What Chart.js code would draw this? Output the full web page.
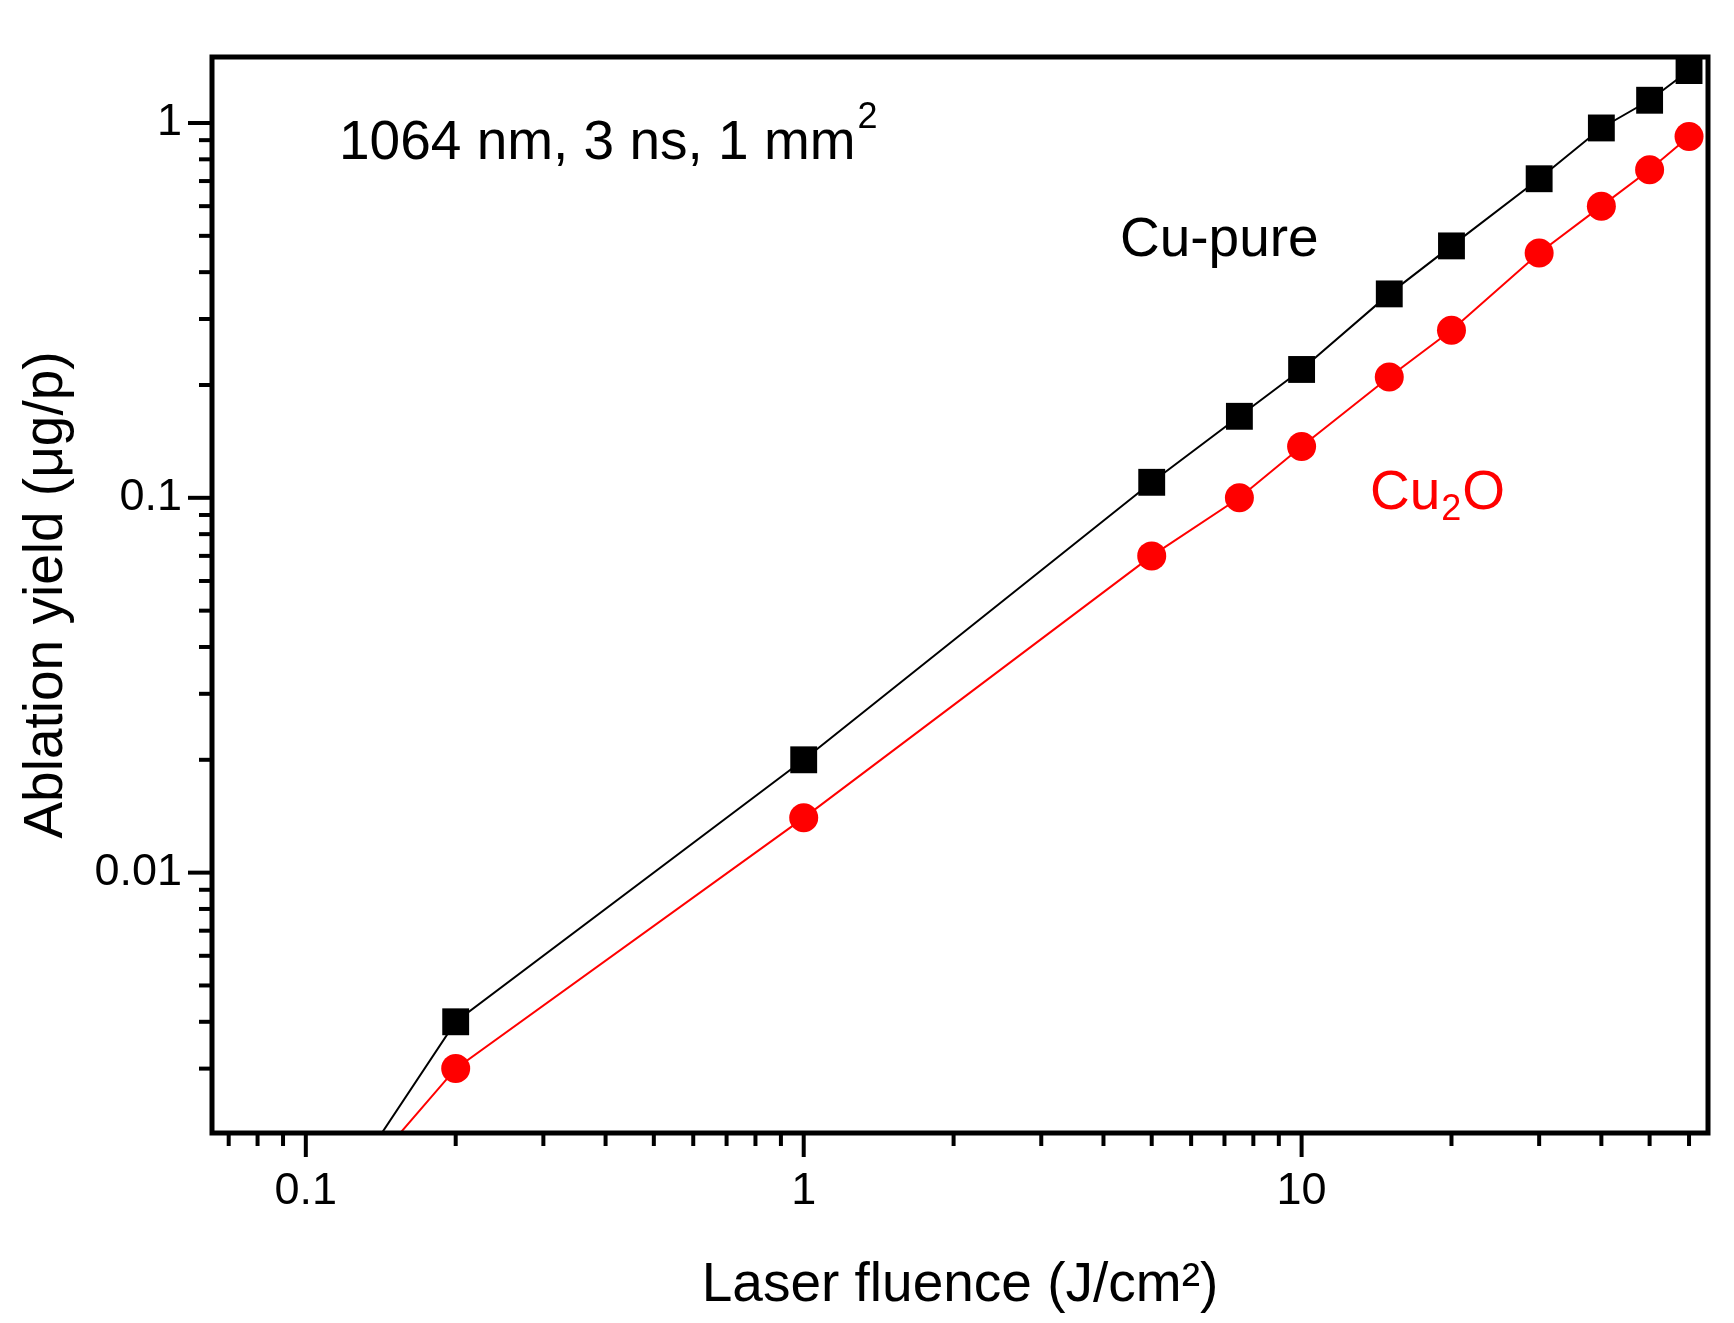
<!DOCTYPE html>
<html>
<head>
<meta charset="utf-8">
<script src="https://cdn.jsdelivr.net/npm/chart.js@4/dist/chart.umd.min.js"></script>
<style>
  html, body { margin: 0; padding: 0; background: #fff; }
  #wrap { width: 1734px; height: 1323px; }
</style>
</head>
<body>
<div id="wrap"><canvas id="c" width="1734" height="1323"></canvas></div>
<script>
// ── Data ────────────────────────────────────────────────────────
const fluence   = [0.1, 0.2, 1, 5, 7.5, 10, 15, 20, 30, 40, 50, 60];
const cuPure    = [0.001, 0.004, 0.02, 0.11, 0.165, 0.22, 0.35, 0.47, 0.71, 0.97, 1.15, 1.38];
const cu2o      = [0.00103, 0.003, 0.014, 0.07, 0.1, 0.137, 0.21, 0.28, 0.45, 0.6, 0.75, 0.92];
const X_MIN = 0.0648, X_MAX = 65.5;
const Y_MIN = 0.00202, Y_MAX = 1.5;

const FONT = '"Liberation Sans", Arial, sans-serif';

function logTicks(min, max) {
  const out = [];
  for (let e = Math.floor(Math.log10(min)); e <= Math.ceil(Math.log10(max)); e++) {
    for (let m = 1; m <= 9; m++) {
      const v = m * Math.pow(10, e);
      if (v >= min * 0.999 && v <= max * 1.001) out.push({ value: v });
    }
  }
  return out;
}
const isMajor = v => Math.abs(Math.log10(v) - Math.round(Math.log10(v))) < 1e-6;

// ── Frame, ticks and annotations ────────────────────────────────
const framePlugin = {
  id: 'frame',
  afterDraw(chart) {
    const { ctx, chartArea: a, scales: { x, y } } = chart;
    ctx.save();
    ctx.strokeStyle = '#000';
    ctx.lineWidth = 5;
    ctx.strokeRect(a.left, a.top, a.right - a.left, a.bottom - a.top);
    ctx.lineWidth = 4;
    x.ticks.forEach(t => {
      const px = x.getPixelForValue(t.value);
      const len = isMajor(t.value) ? 24 : 13;
      ctx.beginPath(); ctx.moveTo(px, a.bottom); ctx.lineTo(px, a.bottom + len); ctx.stroke();
    });
    y.ticks.forEach(t => {
      const py = y.getPixelForValue(t.value);
      const len = isMajor(t.value) ? 24 : 13;
      ctx.beginPath(); ctx.moveTo(a.left, py); ctx.lineTo(a.left - len, py); ctx.stroke();
    });

    ctx.textBaseline = 'alphabetic';
    ctx.textAlign = 'left';
    ctx.fillStyle = '#000';
    ctx.font = '55px ' + FONT;
    let s = '1064 nm, 3 ns, 1 mm';
    ctx.fillText(s, 339, 159);
    const w = ctx.measureText(s).width;
    ctx.font = '36px ' + FONT;
    ctx.fillText('2', 339 + w + 2, 128);

    ctx.font = '55px ' + FONT;
    ctx.fillText('Cu-pure', 1120, 256);

    ctx.fillStyle = '#ff0000';
    ctx.fillText('Cu', 1370, 509);
    const w2 = ctx.measureText('Cu').width;
    ctx.font = '36px ' + FONT;
    ctx.fillText('2', 1370 + w2 + 1, 520);
    ctx.font = '55px ' + FONT;
    ctx.fillText('O', 1370 + w2 + 22, 509);
    ctx.restore();
  }
};

new Chart(document.getElementById('c'), {
  type: 'line',
  data: {
    datasets: [
      {
        label: 'Cu-pure',
        data: fluence.map((f, i) => ({ x: f, y: cuPure[i] })),
        borderColor: '#000', backgroundColor: '#000', borderWidth: 2,
        pointStyle: 'rect', pointRadius: fluence.map((f, i) => i === 0 ? 0 : 19),
        pointBorderWidth: 0, clip: { left: 0, top: 0, right: 0, bottom: 0 }
      },
      {
        label: 'Cu2O',
        data: fluence.map((f, i) => ({ x: f, y: cu2o[i] })),
        borderColor: '#ff0000', backgroundColor: '#ff0000', borderWidth: 2,
        pointStyle: 'circle', pointRadius: fluence.map((f, i) => i === 0 ? 0 : 14.5),
        pointBorderWidth: 0, clip: { left: 0, top: 0, right: 0, bottom: 0 }
      }
    ]
  },
  options: {
    responsive: false,
    animation: false,
    layout: { padding: { left: 0, top: 0, right: 26, bottom: 0 } },
    plugins: { legend: { display: false }, tooltip: { enabled: false } },
    scales: {
      x: {
        type: 'logarithmic', min: X_MIN, max: X_MAX,
        afterBuildTicks: s => { s.ticks = logTicks(X_MIN, X_MAX); },
        afterFit: s => { s.height = 190; },
        grid: { display: false, drawTicks: false },
        border: { display: false },
        ticks: {
          autoSkip: false, maxRotation: 0, padding: 32, color: '#000',
          font: { family: FONT, size: 45 },
          callback: v => isMajor(v) ? String(+v.toPrecision(3)) : ''
        },
        title: {
          display: true, text: 'Laser fluence (J/cm²)', color: '#000',
          font: { family: FONT, size: 55 }, padding: { top: 20, bottom: 4 }
        }
      },
      y: {
        type: 'logarithmic', min: Y_MIN, max: Y_MAX,
        afterBuildTicks: s => { s.ticks = logTicks(Y_MIN, Y_MAX); },
        afterFit: s => { s.width = 212; },
        grid: { display: false, drawTicks: false },
        border: { display: false },
        ticks: {
          autoSkip: false, padding: 30, color: '#000',
          font: { family: FONT, size: 45 },
          callback: v => isMajor(v) ? String(+v.toPrecision(3)) : ''
        },
        title: {
          display: true, text: 'Ablation yield (μg/p)', color: '#000',
          font: { family: FONT, size: 55 }, padding: { top: 14, bottom: 10 }
        }
      }
    }
  },
  plugins: [framePlugin]
});
</script>
</body>
</html>
